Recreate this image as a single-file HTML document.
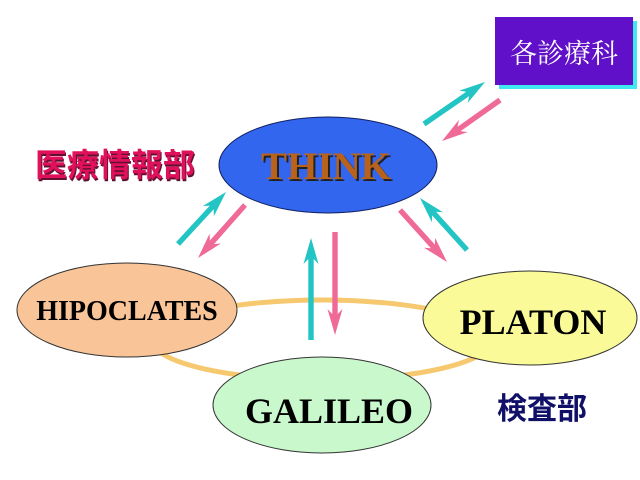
<!DOCTYPE html>
<html><head><meta charset="utf-8"><style>
html,body{margin:0;padding:0;background:#fff;}
svg{display:block;}
</style></head><body>
<svg id="s" width="640" height="480" viewBox="0 0 640 480" xmlns="http://www.w3.org/2000/svg">
<ellipse cx="322" cy="340" rx="170" ry="40" fill="none" stroke="#f6c870" stroke-width="5"/>
<rect x="499" y="21" width="138" height="68" fill="#40e8f0"/>
<rect x="495" y="17" width="138" height="68" fill="#6010c8"/>
<text x="564" y="63" font-family="Liberation Serif, Noto Serif CJK SC, serif" font-size="27" fill="#fff" text-anchor="middle">各診療科</text>
<ellipse cx="328" cy="165" rx="109" ry="48" fill="#3366ee" stroke="#102060" stroke-width="1"/>
<text x="328" y="181" font-family="Liberation Serif, serif" font-weight="bold" font-size="39" fill="#222" text-anchor="middle">THINK</text>
<text x="326" y="179" font-family="Liberation Serif, serif" font-weight="bold" font-size="39" fill="#b8621b" text-anchor="middle">THINK</text>
<ellipse cx="127" cy="310" rx="110" ry="47" fill="#f8c498" stroke="#333" stroke-width="1"/>
<text x="127" y="320" font-family="Liberation Serif, serif" font-weight="bold" font-size="28" fill="#000" text-anchor="middle">HIPOCLATES</text>
<ellipse cx="530" cy="318" rx="107" ry="47" fill="#fbfa98" stroke="#333" stroke-width="1"/>
<text x="533" y="334" font-family="Liberation Serif, serif" font-weight="bold" font-size="36" fill="#000" text-anchor="middle">PLATON</text>
<ellipse cx="322" cy="405" rx="109" ry="48" fill="#c8f8cc" stroke="#333" stroke-width="1"/>
<text x="329" y="423" font-family="Liberation Serif, serif" font-weight="bold" font-size="36" fill="#000" text-anchor="middle">GALILEO</text>
<g id="arr"></g>
<text x="36" y="178" font-family="Liberation Sans, Noto Sans CJK JP, sans-serif" font-weight="bold" font-size="32" fill="#601030">医療情報部</text>
<text x="35" y="176" font-family="Liberation Sans, Noto Sans CJK JP, sans-serif" font-weight="bold" font-size="32" fill="#e0105a">医療情報部</text>
<text x="497" y="419" font-family="Liberation Sans, Noto Sans CJK JP, sans-serif" font-weight="bold" font-size="30" fill="#101068">検査部</text>
</svg>
<script>
var C="#22c4c4",P="#f06a98";
var A=[[311,340,311,238,C],[335,232,335,335,P],[178,244,226,192,C],[245,205,198,258,P],
[400,210,447,262,P],[467,250,420,198,C],[424,124,485,82,C],[500,100,442,141,P]];
var g=document.getElementById("arr"),h="";
A.forEach(function(a){
var dx=a[2]-a[0],dy=a[3]-a[1],L=Math.sqrt(dx*dx+dy*dy),ux=dx/L,uy=dy/L,nx=-uy,ny=ux;
var w=2.7,hw=7.5,hl=Math.min(26,L*0.4),bx=a[2]-ux*hl,by=a[3]-uy*hl,nb=a[2]-ux*(hl-5),nbY=a[3]-uy*(hl-5);
var pts=[[a[0]+nx*w,a[1]+ny*w],[nb+nx*w,nbY+ny*w],[bx+nx*hw,by+ny*hw],[a[2],a[3]],[bx-nx*hw,by-ny*hw],[nb-nx*w,nbY-ny*w],[a[0]-nx*w,a[1]-ny*w]];
h+='<polygon fill="'+a[4]+'" points="'+pts.map(function(p){return p[0].toFixed(1)+","+p[1].toFixed(1)}).join(" ")+'"/>';
});
g.innerHTML=h;
</script>
</body></html>
